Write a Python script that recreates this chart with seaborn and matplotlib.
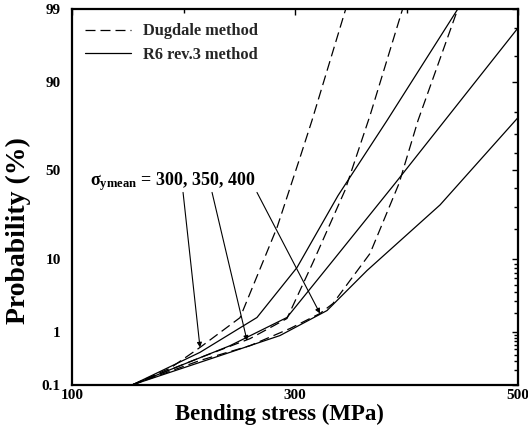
import numpy as np
import pandas as pd
import matplotlib
matplotlib.use("Agg")
import matplotlib.pyplot as plt
import seaborn as sns
from statistics import NormalDist
from matplotlib.lines import Line2D

# ---------------- data ----------------
sigma_levels = [300, 350, 400]

dug300_x = [153.8, 188.0, 214.8, 250.7, 283.9, 304.5, 315.2, 345.5]
dug300_p = [0.1, 0.22, 0.54, 1.7, 20.6, 57.4, 76.4, 99.0]

dug350_x = [153.8, 214.8, 259.6, 292.8, 316.1, 344.8, 367.3, 396.5]
dug350_p = [0.1, 0.35, 0.77, 1.65, 9.25, 38.7, 78.6, 99.0]

dug400_x = [153.8, 214.8, 259.6, 295.5, 322.4, 334.1, 367.3, 393.3, 410.3, 446.0]
dug400_p = [0.1, 0.31, 0.58, 1.14, 1.97, 2.77, 11.6, 42.6, 76.4, 99.0]

r6_300_x = [153.8, 214.8, 265.9, 301.8, 338.6, 382.5, 446.0]
r6_300_p = [0.1, 0.44, 1.71, 8.11, 35.9, 76.4, 99.0]

r6_350_x = [153.8, 241.7, 292.8, 334.1, 389.7, 500.0]
r6_350_p = [0.1, 0.58, 1.71, 9.74, 42.6, 98.0]

r6_400_x = [153.8, 241.7, 286.5, 328.7, 364.6, 430.1, 500.0]
r6_400_p = [0.1, 0.44, 0.87, 2.18, 7.48, 31.0, 77.7]

y_ticks = [0.1, 1, 10, 50, 90, 99]
y_ticklabels = ["0.1", "1", "10", "50", "90", "99"]
y_minor = [0.2, 0.3, 0.4, 0.5, 0.6, 0.7, 0.8, 0.9, 2, 3, 4, 5, 6, 7, 8, 9,
           20, 30, 40, 60, 70, 80, 95, 98]
x_ticks = [100, 300, 500]
x_minor = [200, 400]

legend_labels = ["Dugdale method", "R6 rev.3 method"]
annot_text = r"$\sigma_{\rm ymean}$ = 300, 350, 400"
arrow_tails = [(199.6, 37.6), (225.6, 37.6), (265.9, 37.6)]
arrow_heads = [(214.8, 0.54), (257.0, 0.71), (322.4, 1.97)]

# ---------------- table ----------------
rows = []
series = {
    ("Dugdale", 300): (dug300_x, dug300_p),
    ("Dugdale", 350): (dug350_x, dug350_p),
    ("Dugdale", 400): (dug400_x, dug400_p),
    ("R6", 300): (r6_300_x, r6_300_p),
    ("R6", 350): (r6_350_x, r6_350_p),
    ("R6", 400): (r6_400_x, r6_400_p),
}
for (m, s), (xs, ps) in series.items():
    for i, (xv, pv) in enumerate(zip(xs, ps)):
        rows.append(dict(method=m, sigma=s, order=i, stress=xv, prob=pv))
df = pd.DataFrame(rows)

# ---------------- style ----------------
sns.set_theme(style="white")
plt.rcParams["font.family"] = ["Liberation Serif", "DejaVu Serif"]
plt.rcParams["font.weight"] = "bold"
plt.rcParams["mathtext.fontset"] = "custom"
plt.rcParams["mathtext.rm"] = "Liberation Serif:bold"
plt.rcParams["mathtext.it"] = "Liberation Serif:bold"
plt.rcParams["mathtext.bf"] = "Liberation Serif:bold"

nd = NormalDist()


def fwd(p):
    p = np.clip(np.asarray(p, dtype=float) / 100.0, 1e-12, 1 - 1e-12)
    return np.vectorize(nd.inv_cdf, otypes=[float])(p)


def inv(z):
    z = np.asarray(z, dtype=float)
    return np.vectorize(nd.cdf, otypes=[float])(z) * 100.0


fig = plt.figure(figsize=(5.28, 4.38), dpi=100)
ax = fig.add_axes([72 / 528, 1 - 385 / 438, (518 - 72) / 528, (385 - 9) / 438])
ax.set_yscale("function", functions=(fwd, inv))
ax.set_xlim(100, 500)
ax.set_ylim(0.1, 99)

dash_pat = (8, 4)
for (m, s), sub in df.groupby(["method", "sigma"]):
    sub = sub.sort_values("order")
    sns.lineplot(data=sub, x="stress", y="prob", sort=False, estimator=None,
                 ax=ax, legend=False, color="black", linewidth=0.9)
    if m == "Dugdale":
        ax.lines[-1].set_dashes(dash_pat)

# ticks
ax.set_xticks(x_ticks)
ax.set_xticks(x_minor, minor=True)
ax.set_xticklabels([str(t) for t in x_ticks])
ax.set_yticks(y_ticks)
ax.set_yticks(y_minor, minor=True)
ax.set_yticklabels(y_ticklabels)
ax.yaxis.set_minor_formatter(matplotlib.ticker.NullFormatter())
ax.tick_params(axis="both", which="both", direction="in", top=True, right=True,
               colors="black", labelsize=11, width=1.0)
ax.tick_params(which="major", length=4)
ax.tick_params(which="minor", length=3)
ax.tick_params(axis="y", pad=8)
ax.tick_params(axis="x", pad=3)
for sp in ax.spines.values():
    sp.set_color("black")
    sp.set_linewidth(1.6)

ax.set_xlabel("Bending stress (MPa)", fontsize=16.5, fontweight="bold", color="black")
ax.xaxis.set_label_coords(0.466, -0.05)
ax.set_ylabel("Probability (%)", fontsize=20, fontweight="bold", color="black")
ax.yaxis.set_label_coords(-0.092, 0.41)

# legend
handles = [Line2D([], [], color="black", lw=0.9, dashes=dash_pat),
           Line2D([], [], color="black", lw=0.9)]
ax.legend(handles, legend_labels, loc="upper left", bbox_to_anchor=(0.03, 0.962),
          frameon=False, handlelength=2.8, handletextpad=0.7,
          labelspacing=0.45, borderpad=0, borderaxespad=0,
          prop={"family": "Liberation Serif", "weight": "bold", "size": 11.8})

# annotation
ax.text(0.04, 0.54, annot_text, transform=ax.transAxes, fontsize=13,
        fontweight="bold", ha="left", va="center", color="black")
for (tx, tp), (hx, hp) in zip(arrow_tails, arrow_heads):
    ax.annotate("", xy=(hx, hp), xytext=(tx, tp),
                arrowprops=dict(arrowstyle="-|>", color="black", lw=0.8,
                                mutation_scale=7, shrinkA=0, shrinkB=0))

fig.savefig("out.png", dpi=100)
